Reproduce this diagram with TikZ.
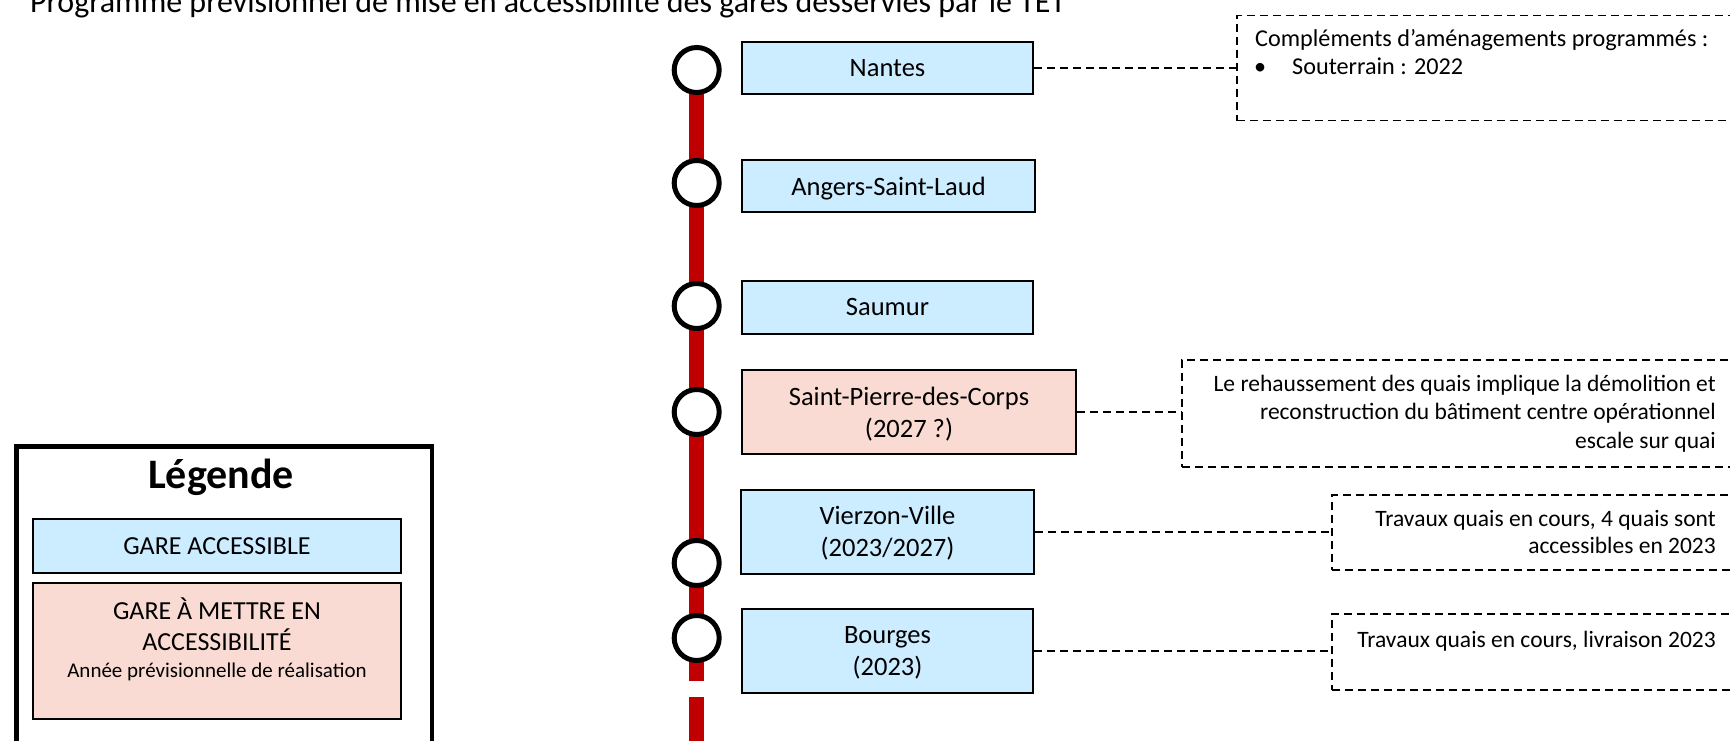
\documentclass[tikz,border=0pt]{standalone}
\usepackage{fontspec}
\setmainfont{Carlito}
\definecolor{stblue}{HTML}{CCECFF}
\definecolor{stpink}{HTML}{FADBD4}
\definecolor{railred}{HTML}{C00000}
\newcommand\ftitle{\fontsize{32}{38}\selectfont}
\newcommand\fstn{\fontsize{26.5}{32}\selectfont}
\newcommand\fnote{\fontsize{23.5}{28}\selectfont}
\newcommand\fnoteb{\fontsize{24.2}{28}\selectfont}
\newcommand\flegtitle{\fontsize{42}{48}\selectfont\bfseries}
\newcommand\fleg{\fontsize{26}{32}\selectfont}
\newcommand\flegsmall{\fontsize{21}{26}\selectfont}
\tikzset{
  stn/.style={draw=black, line width=1.6pt, fill=stblue, inner sep=0pt},
  stnpink/.style={stn, fill=stpink},
  stopc/.style={circle, draw=black, line width=5pt, fill=white, minimum size=45pt, inner sep=0pt},
  notebox/.style={draw=black, line width=1.5pt, dash pattern=on 8pt off 5pt, inner sep=0pt, anchor=north west},
  lbl/.style={inner sep=0pt, anchor=base, font=\fstn},
  ntxt/.style={inner sep=0pt, anchor=base east, font=\fnote},
  ntxtl/.style={inner sep=0pt, anchor=base west, font=\fnoteb},
  link/.style={line width=1.5pt, dash pattern=on 8pt off 5pt},
  rail/.style={line width=15pt, draw=railred},
}
\begin{document}
\begin{tikzpicture}[x=1pt,y=-1pt]
\useasboundingbox (0,0) rectangle (1730,741);

% title
\node[anchor=base west, inner sep=0pt, font=\ftitle] (title) at (30,13)
  {Programme prévisionnel de mise en accessibilité des gares desservies par le TET};

% rail
\coordinate (c1p) at (696.7,70);
\coordinate (r1) at (696.7,681);
\coordinate (r2) at (696.7,697);
\coordinate (r3) at (696.7,760);
\draw[rail] (c1p) -- (r1);
\draw[rail] (r2) -- (r3);

% stops (circles)
\node[stopc] (c1) at (696.7,70) {};
\node[stopc] (c2) at (696.7,183) {};
\node[stopc] (c3) at (696.7,306) {};
\node[stopc] (c4) at (696.7,412) {};
\node[stopc] (c5) at (696.7,563) {};
\node[stopc] (c6) at (696.7,638) {};

% station boxes
\node[stn, minimum width=291pt, minimum height=52pt] (s1) at (887.5,68) {};
\node[stn, minimum width=293pt, minimum height=52pt] (s2) at (888.5,186) {};
\node[stn, minimum width=291pt, minimum height=53pt] (s3) at (887.5,307.5) {};
\node[stnpink, minimum width=334pt, minimum height=84pt] (s4) at (909,412) {};
\node[stn, minimum width=293pt, minimum height=84pt] (s5) at (887.5,532) {};
\node[stn, minimum width=291pt, minimum height=84pt] (s6) at (887.5,651) {};

\node[lbl] (t1) at (887.5,77) {Nantes};
\node[lbl] (t2) at (888.5,195.5) {Angers-Saint-Laud};
\node[lbl] (t3) at (887.5,315.5) {Saumur};
\node[lbl] (t4a) at (909,405) {Saint-Pierre-des-Corps};
\node[lbl] (t4b) at (909,437) {(2027 ?)};
\node[lbl] (t5a) at (887.5,524) {Vierzon-Ville};
\node[lbl] (t5b) at (887.5,556) {(2023/2027)};
\node[lbl] (t6a) at (887.5,643) {Bourges};
\node[lbl] (t6b) at (887.5,675) {(2023)};

% note boxes
\node[notebox, minimum width=509pt, minimum height=105pt] (n1) at (1236,15) {};
\node[notebox, minimum width=564pt, minimum height=107pt] (n2) at (1181,359) {};
\node[notebox, minimum width=414pt, minimum height=75pt] (n3) at (1331,494) {};
\node[notebox, minimum width=414pt, minimum height=76pt] (n4) at (1331,613) {};

\node[ntxtl] (n1a) at (1255,47) {Compléments d’aménagements programmés :};
\node[ntxtl] (n1b) at (1254,75) {•};
\node[ntxtl] (n1c) at (1292,75) {Souterrain : 2022};

\node[ntxt] (n2a) at (1716,391) {Le rehaussement des quais implique la démolition et};
\node[ntxt] (n2b) at (1716,419.5) {reconstruction du bâtiment centre opérationnel};
\node[ntxt] (n2c) at (1716,448) {escale sur quai};

\node[ntxt] (n3a) at (1716,526) {Travaux quais en cours, 4 quais sont};
\node[ntxt] (n3b) at (1716,553) {accessibles en 2023};

\node[ntxt] (n4a) at (1716,647) {Travaux quais en cours, livraison 2023};

% connectors
\draw[link] (s1.east) -- (s1.east -| n1.west);
\draw[link] (s4.east) -- (s4.east -| n2.west);
\draw[link] (s5.east) -- (s5.east -| n3.west);
\draw[link] (s6.east) -- (s6.east -| n4.west);

% legend
\node[draw=black, line width=4.5pt, inner sep=0pt, minimum width=415.6pt, minimum height=299pt, anchor=north west] (leg) at (14.2,444.2) {};
\node[inner sep=0pt, anchor=base, font=\flegtitle] (legt) at (221,488) {Légende};
\node[stn, minimum width=368pt, minimum height=54pt] (lg1) at (217,546) {};
\node[stnpink, minimum width=368pt, minimum height=136pt] (lg2) at (217,651) {};
\node[inner sep=0pt, anchor=base, font=\fleg] (lg1t) at (217,554) {GARE ACCESSIBLE};
\node[inner sep=0pt, anchor=base, font=\fleg] (lg2a) at (217,619) {GARE À METTRE EN};
\node[inner sep=0pt, anchor=base, font=\fleg] (lg2b) at (217,650) {ACCESSIBILITÉ};
\node[inner sep=0pt, anchor=base, font=\flegsmall] (lg2c) at (217,677) {Année prévisionnelle de réalisation};
\end{tikzpicture}
\end{document}
